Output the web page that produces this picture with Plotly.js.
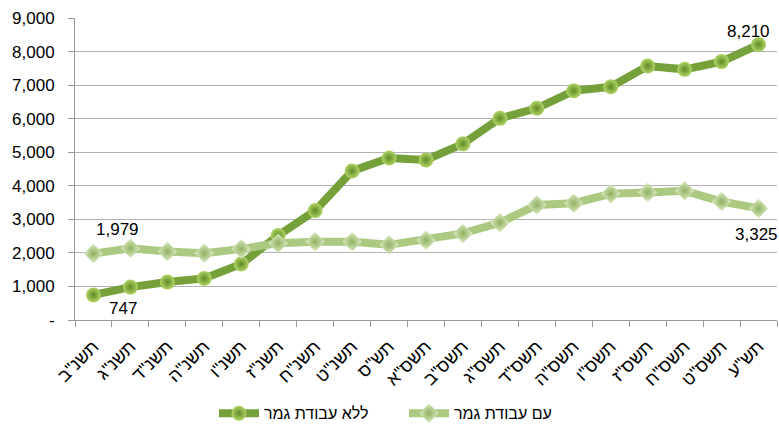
<!DOCTYPE html>
<html>
<head>
<meta charset="utf-8">
<script src="https://cdn.plot.ly/plotly-3.0.1.min.js"></script>
<style>html,body{margin:0;padding:0;background:#fff;}#chart{width:779px;height:427px;}</style>
</head>
<body>
<div id="chart"></div>
<script>
var categories = ['תשנ"ב','תשנ"ג','תשנ"ד','תשנ"ה','תשנ"ו','תשנ"ז','תשנ"ח','תשנ"ט','תש"ס','תשס"א','תשס"ב','תשס"ג','תשס"ד','תשס"ה','תשס"ו','תשס"ז','תשס"ח','תשס"ט','תש"ע'];
var withoutThesis = [747, 980, 1130, 1240, 1670, 2520, 3260, 4440, 4830, 4770, 5250, 6010, 6310, 6830, 6950, 7570, 7470, 7700, 8210];
var withThesis = [1979, 2140, 2040, 1990, 2120, 2290, 2330, 2330, 2240, 2380, 2580, 2900, 3430, 3480, 3760, 3800, 3850, 3530, 3325];
var nameWithout = 'ללא עבודת גמר';
var nameWith = 'עם עבודת גמר';
var yTickVals = [0, 1000, 2000, 3000, 4000, 5000, 6000, 7000, 8000, 9000];
var yTickText = ['-', '1,000', '2,000', '3,000', '4,000', '5,000', '6,000', '7,000', '8,000', '9,000'];

var FONT = 'Liberation Sans, Arial, sans-serif';
function fmt(v){ return v.toLocaleString('en-US'); }

var traces = [
  {
    x: categories, y: withoutThesis, name: nameWithout, type: 'scatter', mode: 'lines+markers',
    line: {color: '#76A03A', width: 8},
    marker: {symbol: 'circle', size: 15, color: '#B2D466', line: {width: 0},
             gradient: {type: 'radial', color: '#5E8A24'}}
  },
  {
    x: categories, y: withThesis, name: nameWith, type: 'scatter', mode: 'lines+markers',
    line: {color: '#ABC980', width: 8},
    marker: {symbol: 'diamond', size: 15, color: '#DDEBC4', line: {width: 0},
             gradient: {type: 'radial', color: '#8FB060'}}
  }
];

var last = categories.length - 1;
var annotations = [
  {x: categories[0], y: withThesis[0], text: fmt(withThesis[0]), xshift: 24, yshift: 24},
  {x: categories[0], y: withoutThesis[0], text: fmt(withoutThesis[0]), xshift: 30, yshift: -14},
  {x: categories[last], y: withoutThesis[last], text: fmt(withoutThesis[last]), xshift: -10, yshift: 13},
  {x: categories[last], y: withThesis[last], text: fmt(withThesis[last]), xshift: -2, yshift: -26}
].map(function(a){
  a.xref = 'x'; a.yref = 'y'; a.showarrow = false;
  a.font = {family: FONT, size: 17, color: '#000'};
  return a;
});

var layout = {
  width: 779, height: 427,
  margin: {l: 75, r: 2, t: 18, b: 107},
  paper_bgcolor: '#fff', plot_bgcolor: '#fff',
  font: {family: FONT, size: 17, color: '#000'},
  showlegend: true,
  legend: {orientation: 'h', x: 0.198, xanchor: 'left', xref: 'paper',
           yref: 'container', y: 0.032, yanchor: 'middle',
           entrywidth: 135, itemwidth: 40,
           font: {family: FONT, size: 16, color: '#000'}, traceorder: 'normal'},
  xaxis: {
    type: 'category', range: [-0.5, categories.length - 0.5], automargin: false,
    tickson: 'boundaries', ticks: 'outside', ticklen: 6, tickcolor: '#999',
    showline: true, linecolor: '#999', linewidth: 1, ticklabelstandoff: 8,
    showgrid: false, tickangle: -45, tickfont: {family: FONT, size: 18, color: '#000'}
  },
  yaxis: {
    range: [0, 9000], tickvals: yTickVals, ticktext: yTickText, automargin: false,
    ticks: 'outside', ticklen: 6, tickcolor: '#999', ticklabelstandoff: 10,
    showline: true, linecolor: '#999', linewidth: 1,
    showgrid: true, gridcolor: '#B3B3B3', gridwidth: 1, zeroline: false,
    tickfont: {family: FONT, size: 17, color: '#000'}
  },
  annotations: annotations
};

Plotly.newPlot('chart', traces, layout, {displayModeBar: false, staticPlot: true});
</script>
</body>
</html>
